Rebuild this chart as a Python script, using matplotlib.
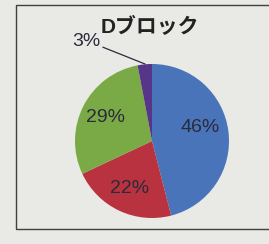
import matplotlib.pyplot as plt
from matplotlib.patches import Rectangle

plt.rcParams['font.family'] = ['Liberation Sans', 'Noto Sans CJK JP', 'DejaVu Sans']

title = 'Dブロック'
labels = ['46%', '22%', '29%', '3%']
values = [46, 22, 29, 3]
colors = ['#4a74b9', '#b9323f', '#7aaa45', '#57368a']

W, H = 269, 244
fig = plt.figure(figsize=(W / 100, H / 100), dpi=100, facecolor='#e9e9e6')
ax = fig.add_axes([0, 0, 1, 1])

# chart frame
ax.add_patch(Rectangle((15.5, 15), 260, 224, fill=False, edgecolor='#404040', lw=1.0))

wedges, texts, autotexts = ax.pie(values, colors=colors, startangle=90, counterclock=False,
                                  center=(152, H - 141), radius=77, autopct='%1.0f%%',
                                  pctdistance=0.68, frame=True,
                                  wedgeprops=dict(edgecolor='none'),
                                  textprops=dict(fontsize=14, color='#2a2a3a'))
ax.set_xlim(0, W)
ax.set_ylim(0, H)
ax.set_aspect('equal')
ax.axis('off')

for t, lab in zip(autotexts, labels):
    t.set_text(lab)
autotexts[0].set_position((200, H - 127))
autotexts[3].set_visible(False)
ax.annotate(labels[3], xy=(145, H - 64), xytext=(86, H - 41), fontsize=14, color='#2a2a3a',
            ha='center', va='center',
            arrowprops=dict(arrowstyle='-', color='#2a2a3a', lw=0.9, shrinkA=0, shrinkB=0,
                            relpos=(1.0, 0.2)))

ax.text(150, H - 27, title, fontsize=15, fontweight='bold', ha='center', va='center',
        color='#222222')

fig.savefig('out.png', dpi=100, facecolor=fig.get_facecolor())
